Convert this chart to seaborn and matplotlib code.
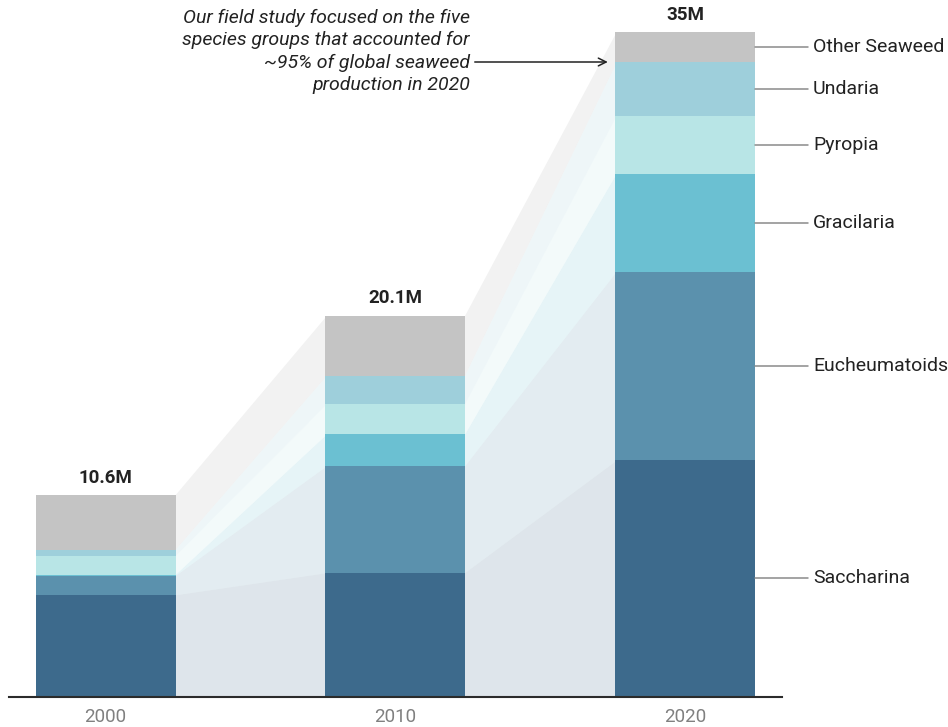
import matplotlib
matplotlib.use("Agg")
import matplotlib.pyplot as plt
import seaborn as sns
import numpy as np
import pandas as pd

# ---- data (million tonnes) ----
years = ["2000", "2010", "2020"]
species = ["Saccharina", "Eucheumatoids", "Gracilaria", "Pyropia", "Undaria", "Other Seaweed"]
saccharina = [5.35, 6.52, 12.44]
eucheumatoids = [1.00, 5.62, 9.93]
gracilaria = [0.05, 1.67, 5.16]
pyropia = [1.00, 1.60, 3.05]
undaria = [0.32, 1.49, 2.81]
other = [2.88, 3.16, 1.61]
total_labels = ["10.6M", "20.1M", "35M"]
annotation = ("Our field study focused on the five\n"
              "species groups that accounted for\n"
              "~95% of global seaweed\n"
              "production in 2020")

series = [saccharina, eucheumatoids, gracilaria, pyropia, undaria, other]
colors = ["#3d6a8c", "#5b91ad", "#6bc0d2", "#b8e5e6", "#9ecfdb", "#c4c4c4"]

sns.set_theme(style="white")
plt.rcParams["font.family"] = ["Roboto", "DejaVu Sans"]

W, H = 948, 727
fig = plt.figure(figsize=(W / 100, H / 100), dpi=100)
base_px = 696.5
px_per_m = 18.99
ax = fig.add_axes([9 / W, (H - base_px) / H, 773 / W, base_px / H])

bw = 0.483
bottoms = np.zeros(len(years))
cum = []
for name, vals, col in zip(species, series, colors):
    vals = np.array(vals, dtype=float)
    df = pd.DataFrame({"year": years, "value": vals})
    sns.barplot(data=df, x="year", y="value", bottom=bottoms, color=col,
                saturation=1, width=bw, errorbar=None, linewidth=0, ax=ax, zorder=2)
    cum.append((bottoms.copy(), bottoms + vals))
    bottoms = bottoms + vals

# connecting bands between bars
for (lo, hi), col, name in zip(cum, colors, species):
    a = 0.22 if name == "Other Seaweed" else 0.17
    for i in range(len(years) - 1):
        x0, x1 = i + bw / 2 - 0.003, i + 1 - bw / 2 + 0.003
        ax.fill_between([x0, x1], [lo[i], lo[i + 1]], [hi[i], hi[i + 1]],
                        color=col, alpha=a, linewidth=0, zorder=0)

# totals
for i, t in enumerate(total_labels):
    ax.text(i, bottoms[i] + 0.9, t, ha="center", va="center",
            fontsize=13.5, fontweight="bold", color="#222222")

# species labels on the right
last = len(years) - 1
for (lo, hi), name in zip(cum, species):
    yc = (lo[last] + hi[last]) / 2
    ax.plot([last + bw / 2, 2.424], [yc, yc], color="#8a8a8a", lw=1.1,
            clip_on=False, zorder=3)
    ax.text(2.441, yc, name, ha="left", va="center", fontsize=14,
            color="#222222", clip_on=False)

# annotation + arrow
arrow_y = (base_px - 62) / px_per_m
text_y = (base_px - 51.5) / px_per_m
ax.text(1.257, text_y, annotation, ha="right", va="center", fontsize=14,
        style="italic", color="#222222", linespacing=1.32)
ax.annotate("", xy=(1.733, arrow_y), xytext=(1.274, arrow_y),
            arrowprops=dict(arrowstyle="->", color="#222222", lw=1.1,
                            shrinkA=0, shrinkB=0, mutation_scale=14))

ax.set_xlim(-0.333, 2.334)
ax.set_ylim(0, base_px / px_per_m)
ax.set_xticks(range(len(years)))
ax.set_xticklabels(years, fontsize=13.5, color="#808080")
ax.tick_params(axis="x", length=0, pad=8)
ax.set_yticks([])
ax.set_xlabel("")
ax.set_ylabel("")
for s in ["top", "right", "left"]:
    ax.spines[s].set_visible(False)
ax.spines["bottom"].set_color("#2b2b2b")
ax.spines["bottom"].set_linewidth(1.5)
ax.spines["bottom"].set_zorder(5)

fig.savefig("out.png", dpi=100, facecolor="white")
